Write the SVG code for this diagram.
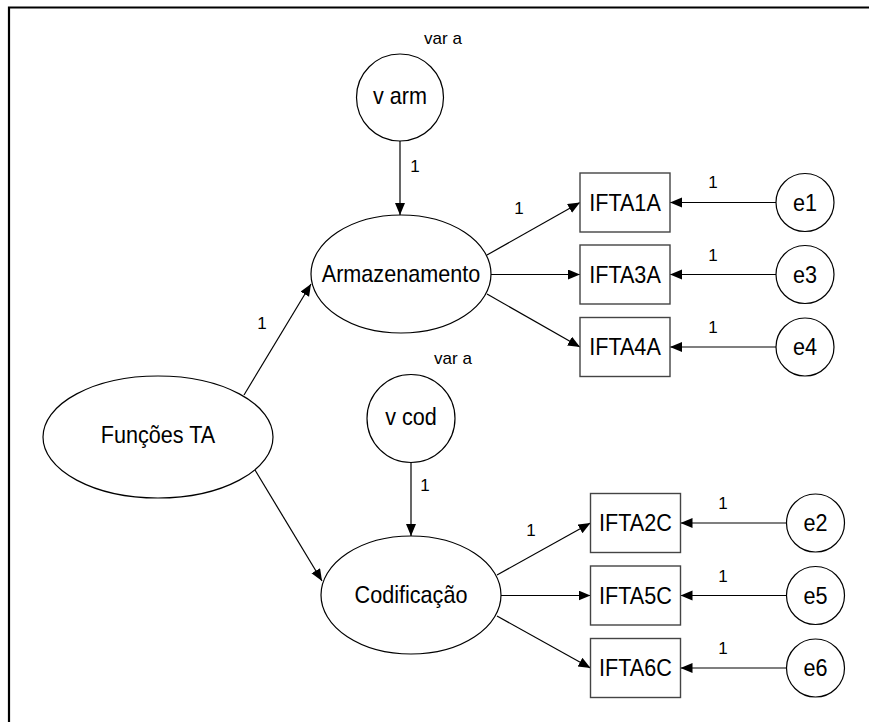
<svg xmlns="http://www.w3.org/2000/svg" width="869" height="722" viewBox="0 0 869 722">
<style>
.shape{fill:#fff;stroke:#000;stroke-width:1.2}
.box{fill:#fff;stroke:#444;stroke-width:1.4}
.t{font-family:"Liberation Sans",Arial,sans-serif;font-size:24px;text-anchor:middle;fill:#000}
.s{font-family:"Liberation Sans",Arial,sans-serif;font-size:17px;text-anchor:middle;fill:#000}
.c{stroke:#000;stroke-width:1.2;fill:none;marker-end:url(#ah)}
</style>
<defs>
<marker id="ah" markerUnits="userSpaceOnUse" markerWidth="13" markerHeight="11" refX="12" refY="5" orient="auto" viewBox="0 0 13 11">
<path d="M0,0 L12,5 L0,10 z" fill="#000"/>
</marker>
</defs>
<rect width="869" height="722" fill="#fff"/>
<path d="M9,722 L9,7.5 L869,7.5" fill="none" stroke="#000" stroke-width="2.2"/>

<g id="connectors">
<line class="c" x1="400" y1="141" x2="400" y2="215"/>
<line class="c" x1="244" y1="395" x2="311" y2="284"/>
<line class="c" x1="255" y1="470" x2="322" y2="581"/>
<line class="c" x1="487" y1="255" x2="580" y2="202.5"/>
<line class="c" x1="491" y1="274.5" x2="580" y2="274.5"/>
<line class="c" x1="487" y1="294" x2="580" y2="347"/>
<line class="c" x1="776" y1="202.5" x2="670" y2="202.5"/>
<line class="c" x1="776" y1="274.5" x2="670" y2="274.5"/>
<line class="c" x1="776" y1="347" x2="670" y2="347"/>
<line class="c" x1="411" y1="462.5" x2="411" y2="536"/>
<line class="c" x1="497" y1="575" x2="590.5" y2="523"/>
<line class="c" x1="501" y1="595.5" x2="590.5" y2="595.5"/>
<line class="c" x1="497" y1="616" x2="590.5" y2="668"/>
<line class="c" x1="786.5" y1="523" x2="680.5" y2="523"/>
<line class="c" x1="786.5" y1="595.5" x2="680.5" y2="595.5"/>
<line class="c" x1="786.5" y1="668" x2="680.5" y2="668"/>
<text class="s" x="415" y="172">1</text>
<text class="s" x="262" y="329">1</text>
<text class="s" x="519" y="214">1</text>
<text class="s" x="713" y="188">1</text>
<text class="s" x="713" y="261">1</text>
<text class="s" x="713" y="333">1</text>
<text class="s" x="425" y="491">1</text>
<text class="s" x="531" y="536">1</text>
<text class="s" x="723" y="509">1</text>
<text class="s" x="723" y="582">1</text>
<text class="s" x="723" y="654">1</text>
</g>

<g id="v_arm">
<text class="s" x="443" y="44">var a</text>
<circle class="shape" cx="400" cy="97.5" r="43.5"/>
<text class="t" transform="scale(0.9,1)" x="444.44" y="104">v arm</text>
</g>
<g id="v_cod">
<text class="s" x="453" y="364">var a</text>
<circle class="shape" cx="411" cy="418.5" r="44"/>
<text class="t" transform="scale(0.9,1)" x="456.67" y="425.5">v cod</text>
</g>
<g id="funcoes_ta">
<ellipse class="shape" cx="158" cy="437" rx="115" ry="61"/>
<text class="t" transform="scale(0.9,1)" x="175.56" y="443.5">Funções TA</text>
</g>
<g id="armazenamento">
<ellipse class="shape" cx="401" cy="274" rx="90" ry="59"/>
<text class="t" transform="scale(0.9,1)" x="445.56" y="282">Armazenamento</text>
</g>
<g id="codificacao">
<ellipse class="shape" cx="411" cy="595" rx="90" ry="59"/>
<text class="t" transform="scale(0.9,1)" x="456.67" y="603">Codificação</text>
</g>

<g id="IFTA1A"><rect class="box" x="580" y="173" width="90" height="59"/><text class="t" transform="scale(0.9,1)" x="694.44" y="211">IFTA1A</text></g>
<g id="IFTA3A"><rect class="box" x="580" y="245" width="90" height="59"/><text class="t" transform="scale(0.9,1)" x="694.44" y="283">IFTA3A</text></g>
<g id="IFTA4A"><rect class="box" x="580" y="317.5" width="90" height="59"/><text class="t" transform="scale(0.9,1)" x="694.44" y="355.5">IFTA4A</text></g>
<g id="IFTA2C"><rect class="box" x="590.5" y="493.5" width="90" height="59"/><text class="t" transform="scale(0.9,1)" x="706.11" y="531.5">IFTA2C</text></g>
<g id="IFTA5C"><rect class="box" x="590.5" y="566" width="90" height="59"/><text class="t" transform="scale(0.9,1)" x="706.11" y="604">IFTA5C</text></g>
<g id="IFTA6C"><rect class="box" x="590.5" y="638.5" width="90" height="59"/><text class="t" transform="scale(0.9,1)" x="706.11" y="676.5">IFTA6C</text></g>

<g id="e1"><circle class="shape" cx="805" cy="202.5" r="29"/><text class="t" transform="scale(0.9,1)" x="894.44" y="211">e1</text></g>
<g id="e3"><circle class="shape" cx="805" cy="274.5" r="29"/><text class="t" transform="scale(0.9,1)" x="894.44" y="283">e3</text></g>
<g id="e4"><circle class="shape" cx="805" cy="347" r="29"/><text class="t" transform="scale(0.9,1)" x="894.44" y="355.5">e4</text></g>
<g id="e2"><circle class="shape" cx="815.5" cy="523" r="29"/><text class="t" transform="scale(0.9,1)" x="906.11" y="531.5">e2</text></g>
<g id="e5"><circle class="shape" cx="815.5" cy="595.5" r="29"/><text class="t" transform="scale(0.9,1)" x="906.11" y="604">e5</text></g>
<g id="e6"><circle class="shape" cx="815.5" cy="668" r="29"/><text class="t" transform="scale(0.9,1)" x="906.11" y="676.5">e6</text></g>
</svg>
